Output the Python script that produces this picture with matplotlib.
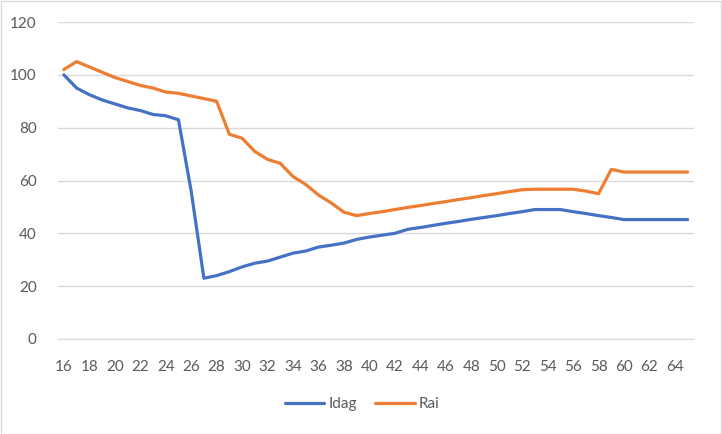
import numpy as np
import matplotlib
matplotlib.use("Agg")
import matplotlib.pyplot as plt
from matplotlib.patches import Rectangle

# ages on the category axis
ages = list(range(16, 66))

# series values
idag = [100, 95, 92.5, 90.5, 89, 87.5, 86.5, 85, 84.5, 83,
        56, 23, 24, 25.5, 27.3, 28.7, 29.5, 31, 32.5, 33.3,
        34.8, 35.5, 36.3, 37.7, 38.6, 39.3, 40, 41.5, 42.2, 43,
        43.8, 44.5, 45.3, 46, 46.7, 47.5, 48.2, 49, 49, 49,
        48.2, 47.5, 46.7, 46, 45.2, 45.2, 45.2, 45.2, 45.2, 45.2]
rai = [102, 105, 103, 101, 99, 97.5, 96, 95, 93.5, 93,
       92, 91, 90, 77.5, 76, 71, 68, 66.5, 61.5, 58.5,
       54.5, 51.5, 48, 46.7, 47.5, 48.2, 49, 49.8, 50.5, 51.3,
       52, 52.8, 53.5, 54.3, 55, 55.8, 56.5, 56.7, 56.7, 56.7,
       56.7, 56, 55, 64.2, 63.2, 63.2, 63.2, 63.2, 63.2, 63.2]
series_names = ["Idag", "Rai"]
xtick_labels = [str(a) for a in range(16, 65, 2)]
ytick_values = [0, 20, 40, 60, 80, 100, 120]

plt.rcParams['font.family'] = ['Lato', 'DejaVu Sans']

fig = plt.figure(figsize=(7.22, 4.34), dpi=100)
W, H = 722, 434
ax = fig.add_axes([57.5 / W, 1 - 339 / H, (694 - 57.5) / W, (339 - 22) / H])

ax.plot(ages, idag, color="#4472C4", lw=2.3, solid_joinstyle="round",
        solid_capstyle="round", label=series_names[0])
ax.plot(ages, rai, color="#ED7D31", lw=2.3, solid_joinstyle="round",
        solid_capstyle="round", label=series_names[1])

ax.set_xlim(15.5, 65.5)
ax.set_ylim(0, 120)
ax.set_yticks(ytick_values)
ax.set_xticks(range(16, 65, 2))
ax.set_xticklabels(xtick_labels)
ax.grid(axis="y", color="#D9D9D9", lw=1)
ax.set_axisbelow(True)
for s in ["top", "right", "left"]:
    ax.spines[s].set_visible(False)
ax.spines["bottom"].set_color("#D9D9D9")
ax.tick_params(length=0, labelsize=11, labelcolor="#595959")
ax.tick_params(axis="y", pad=15)
ax.tick_params(axis="x", pad=15)

# legend below the plot
fig.legend(loc="center", bbox_to_anchor=(362 / W, 1 - 404 / H), ncol=2,
           frameon=False, fontsize=11, labelcolor="#595959",
           handlelength=2.6, handletextpad=0.25, columnspacing=1.2)

# light chart border
fig.patches.append(Rectangle((0.5 / W, 0.5 / H), 1 - 1.5 / W, 1 - 1.5 / H,
                             transform=fig.transFigure, fill=False,
                             edgecolor="#D9D9D9", lw=1))

fig.savefig("out.png", dpi=100)
